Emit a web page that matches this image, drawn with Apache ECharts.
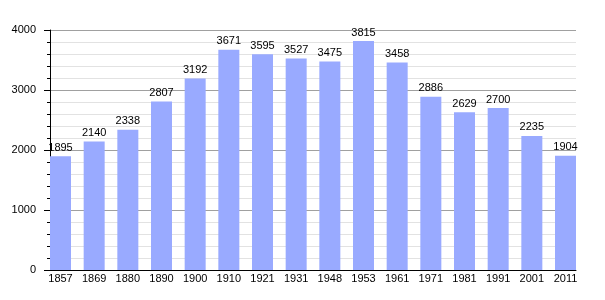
<!DOCTYPE html>
<html><head><meta charset="utf-8">
<script src="https://cdn.jsdelivr.net/npm/echarts@6/dist/echarts.min.js"></script>
<style>html,body{margin:0;padding:0;background:#fff}#c{width:605px;height:300px}</style>
</head><body><div id="c"></div>
<script>
const years = ['1857','1869','1880','1890','1900','1910','1921','1931','1948','1953','1961','1971','1981','1991','2001','2011'];
const population = [1895,2140,2338,2807,3192,3671,3595,3527,3475,3815,3458,2886,2629,2700,2235,1904];
const yTicks = [0,1000,2000,3000,4000];

const chart = echarts.init(document.getElementById('c'));
const font = 'Liberation Sans, Arial, sans-serif';
chart.setOption({
  animation: false,
  grid: [
    {left: 50, right: 29, top: 30, height: 240},
    {left: 43.67, width: 538.67, top: 30, height: 240}
  ],
  xAxis: [
    {gridIndex: 0, type: 'value', min: 0, max: 1, axisLine: {show: true, onZero: false, lineStyle: {color: '#000', width: 1}},
     axisTick: {show: false}, axisLabel: {show: false}, splitLine: {show: false}},
    {gridIndex: 1, type: 'category', data: years, axisLine: {show: false}, axisTick: {show: false},
     axisLabel: {color: '#000', fontSize: 11, fontFamily: font, margin: 3, interval: 0}}
  ],
  yAxis: [
    {gridIndex: 0, type: 'value', min: yTicks[0], max: yTicks[yTicks.length-1], interval: 1000,
     axisLine: {show: true, lineStyle: {color: '#000', width: 1}},
     axisTick: {show: true, length: 6, lineStyle: {color: '#000'}},
     minorTick: {show: true, splitNumber: 5, length: 3, lineStyle: {color: '#000'}},
     axisLabel: {color: '#000', fontSize: 11, fontFamily: font, margin: 14, formatter: v => String(v)},
     splitLine: {show: true, lineStyle: {color: '#a0a0a0', width: 1}},
     minorSplitLine: {show: true, lineStyle: {color: '#e2e2e2', width: 1}}},
    {gridIndex: 1, type: 'value', min: 0, max: 4000, show: false, splitLine: {show: false}}
  ],
  series: [{
    type: 'bar', xAxisIndex: 1, yAxisIndex: 1, data: population, barWidth: 21,
    itemStyle: {color: '#99aaff'},
    label: {show: true, position: 'top', distance: 3, color: '#000', fontSize: 11, fontFamily: font}
  }]
});
</script></body></html>
